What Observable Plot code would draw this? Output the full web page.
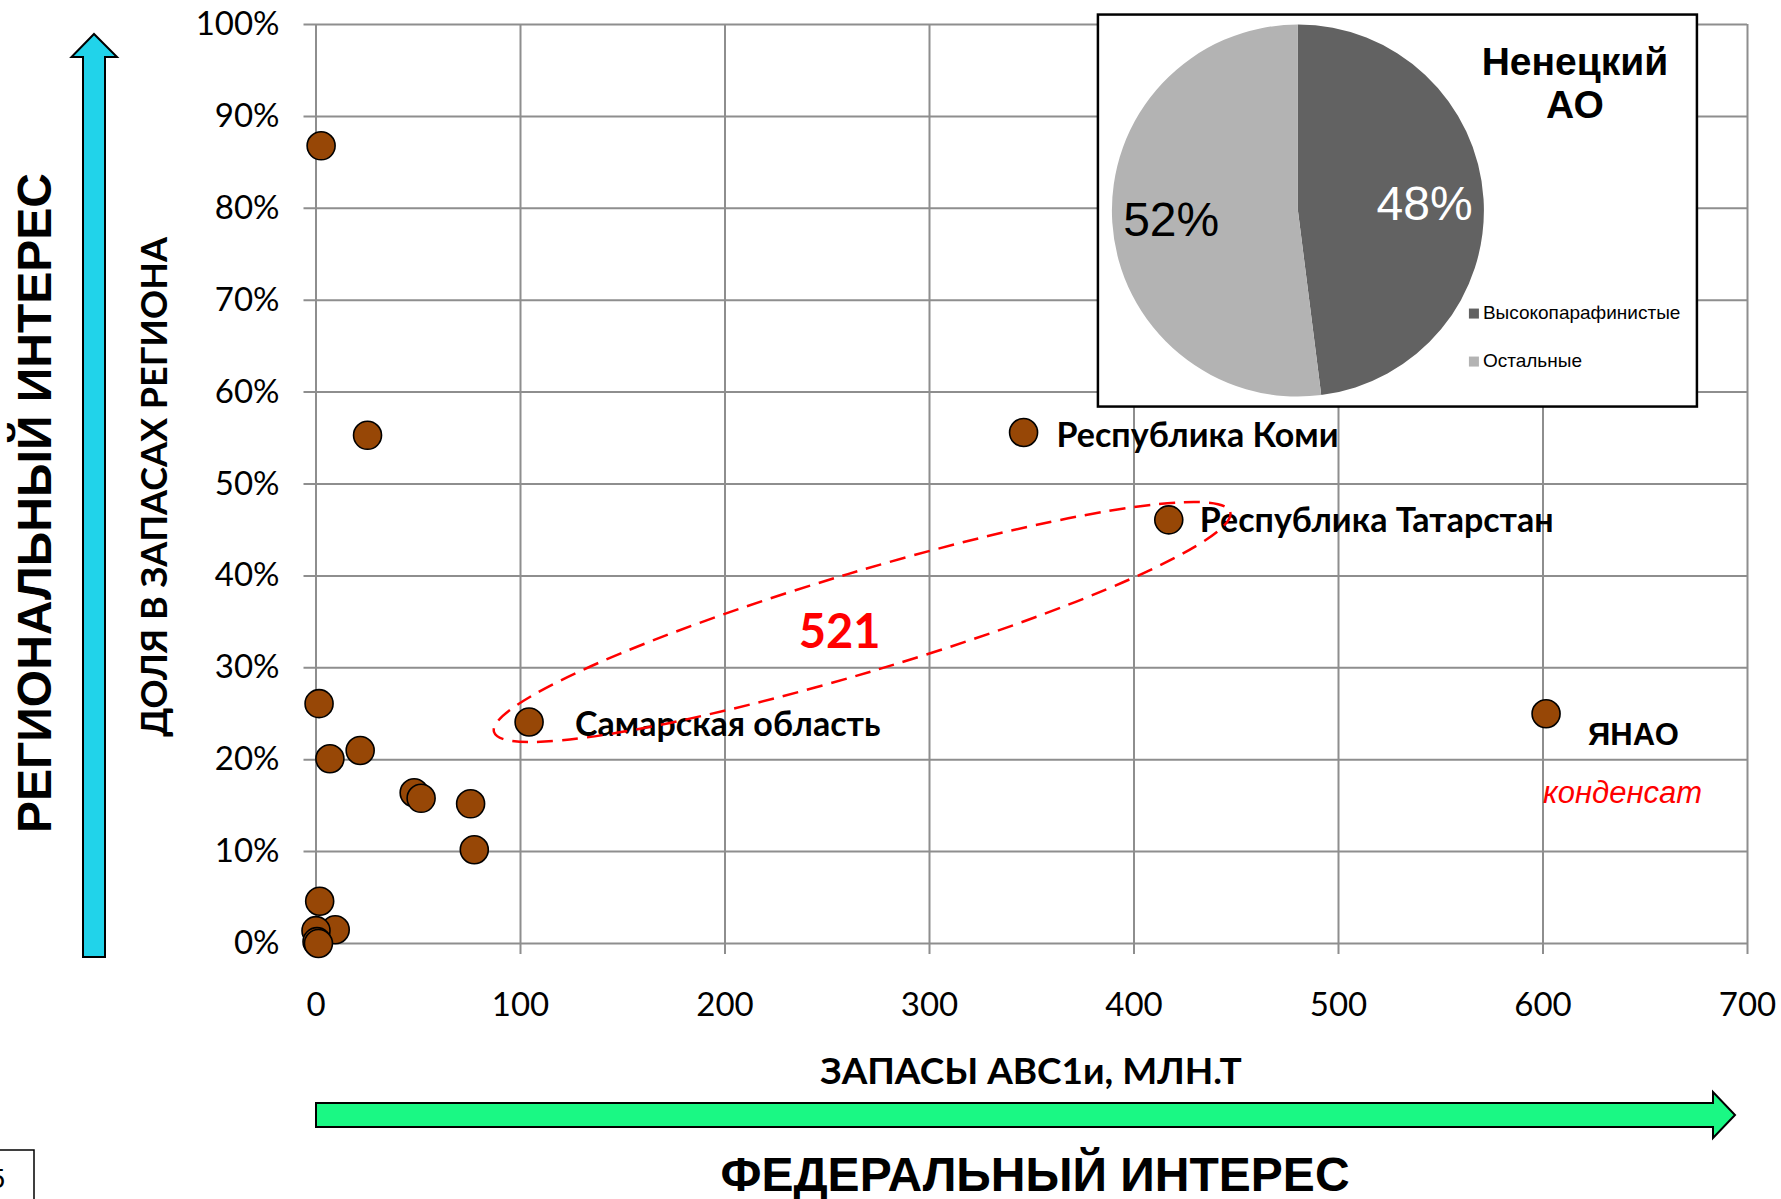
<!DOCTYPE html>
<html><head><meta charset="utf-8">
<script src="https://cdn.jsdelivr.net/npm/d3@7"></script>
<script src="https://cdn.jsdelivr.net/npm/@observablehq/plot@0.6"></script>
<style>html,body{margin:0;padding:0;background:#fff} svg{display:block}</style>
</head><body><div id="chart"></div>
<script>
// ---- data ----
const reserves = [2.5, 25.2, 1.5, 6.8, 21.6, 48, 51.4, 75.6, 77.4, 1.8, 9.4, 0, 0.5, 1.2, 104.2, 346, 417, 601.5];
const share    = [0.868, 0.553, 0.261, 0.201, 0.210, 0.164, 0.158, 0.152, 0.102, 0.046, 0.015, 0.014, 0.002, 0.0, 0.241, 0.556, 0.461, 0.250];
const pointNames = ["", "", "", "", "", "", "", "", "", "", "", "", "", "", "Самарская область", "Республика Коми", "Республика Татарстан", "ЯНАО"];
const xTicks = [0, 100, 200, 300, 400, 500, 600, 700];
const yTicks = [0, 0.1, 0.2, 0.3, 0.4, 0.5, 0.6, 0.7, 0.8, 0.9, 1.0];
const pieCategories = ["Высокопарафинистые", "Остальные"];
const pieValues = [48, 52];
const pieTitle = ["Ненецкий", "АО"];
const clusterLabel = "521";
const condensateNote = "конденсат";
const xTitle = "ЗАПАСЫ АВС1и, МЛН.Т";
const yTitle = "ДОЛЯ В ЗАПАСАХ РЕГИОНА";
const fedTitle = "ФЕДЕРАЛЬНЫЙ ИНТЕРЕС";
const regTitle = "РЕГИОНАЛЬНЫЙ ИНТЕРЕС";

// ---- layout / style ----
const W = 1781, H = 1199;
const calibri = "Lato, 'Open Sans', sans-serif";
const arial = "'Liberation Sans', Arial, sans-serif";
const gridColor = "#8e8e8e";
const dotFill = "#974706";
const labelOffsets = {
  "Самарская область": [46, 3],
  "Республика Коми": [33, 4],
  "Республика Татарстан": [31, 1],
  "ЯНАО": [42, 21]
};
const ellipseEnds = {x: [87.3, 447.3], y: [0.2296, 0.469]}; // data coords of major-axis ends
const ellipseMinor = 50;
const clusterPos = {x: 256, y: 0.338};
const pieCenter = {x: 480.4, y: 0.797};
const pieRadius = 186;

const idx = d3.range(reserves.length);
const named = idx.filter(i => pointNames[i]);

const ellipseMark = (index, scales) => {
  const x1 = scales.x(ellipseEnds.x[0]), y1 = scales.y(ellipseEnds.y[0]);
  const x2 = scales.x(ellipseEnds.x[1]), y2 = scales.y(ellipseEnds.y[1]);
  const cx = (x1 + x2) / 2, cy = (y1 + y2) / 2;
  const a = Math.hypot(x2 - x1, y2 - y1) / 2;
  const ang = Math.atan2(y2 - y1, x2 - x1) * 180 / Math.PI;
  const g = d3.create("svg:g");
  g.append("ellipse").attr("cx", 0).attr("cy", 0).attr("rx", a).attr("ry", ellipseMinor)
    .attr("transform", `translate(${cx},${cy}) rotate(${ang})`)
    .attr("fill", "none").attr("stroke", "#ff0000").attr("stroke-width", 2.5)
    .attr("stroke-dasharray", "16,9");
  return g.node();
};

const pieMark = (index, scales) => {
  const cx = scales.x(pieCenter.x), cy = scales.y(pieCenter.y);
  const g = d3.create("svg:g").attr("transform", `translate(${cx},${cy})`);
  g.append("rect").attr("x", -200).attr("y", -196).attr("width", 599).attr("height", 392)
    .attr("fill", "#fff").attr("stroke", "#000").attr("stroke-width", 2.5);
  const colors = ["#626262", "#b3b3b3"];
  const arcs = d3.pie().sort(null).value(d => d)(pieValues);
  const arc = d3.arc().innerRadius(0).outerRadius(pieRadius);
  g.selectAll("path.slice").data(arcs).join("path").attr("d", arc)
    .attr("fill", (d, i) => colors[i]);
  const lr = 127;
  arcs.forEach((d, i) => {
    const m = (d.startAngle + d.endAngle) / 2;
    g.append("text").attr("x", lr * Math.sin(m)).attr("y", -lr * Math.cos(m)).attr("dy", "0.36em")
      .attr("text-anchor", "middle").attr("font-family", arial).attr("font-size", 48)
      .attr("fill", i === 0 ? "#fff" : "#000").text(pieValues[i] + "%");
  });
  pieTitle.forEach((t, i) => {
    g.append("text").attr("x", 277).attr("y", -136 + i * 43).attr("text-anchor", "middle")
      .attr("font-family", arial).attr("font-weight", "bold").attr("font-size", 39).attr("fill", "#000").text(t);
  });
  pieCategories.forEach((t, i) => {
    g.append("rect").attr("x", 171).attr("y", 98 + i * 48).attr("width", 10).attr("height", 10).attr("fill", colors[i]);
    g.append("text").attr("x", 185).attr("y", 108.5 + i * 48).attr("text-anchor", "start")
      .attr("font-family", arial).attr("font-size", 19)
      .attr("fill", "#000").text(t);
  });
  return g.node();
};

const decoMark = () => {
  const g = d3.create("svg:g");
  // regional interest arrow (cyan, vertical)
  g.append("polygon").attr("points", "83,957 105,957 105,57 117,57 94,34 71.5,57 83,57")
    .attr("fill", "#21d3ea").attr("stroke", "#000").attr("stroke-width", 2);
  // federal interest arrow (green, horizontal)
  g.append("polygon").attr("points", "316,1103 1713,1103 1713,1092 1735,1115 1713,1138 1713,1127 316,1127")
    .attr("fill", "#1af884").attr("stroke", "#000").attr("stroke-width", 2);
  g.append("text").attr("transform", "translate(34,503) rotate(-90)").attr("dy", "0.36em")
    .attr("text-anchor", "middle").attr("font-family", arial).attr("font-weight", "bold")
    .attr("font-size", 48).attr("fill", "#000").text(regTitle);
  g.append("text").attr("transform", "translate(154,487) rotate(-90)").attr("dy", "0.36em")
    .attr("text-anchor", "middle").attr("font-family", calibri).attr("font-weight", "bold")
    .attr("font-size", 36).attr("fill", "#000").text(yTitle);
  g.append("text").attr("x", 1031).attr("y", 1071).attr("dy", "0.36em")
    .attr("text-anchor", "middle").attr("font-family", calibri).attr("font-weight", "bold")
    .attr("font-size", 37).attr("fill", "#000").text(xTitle);
  g.append("text").attr("x", 1035).attr("y", 1191)
    .attr("text-anchor", "middle").attr("font-family", arial).attr("font-weight", "bold")
    .attr("font-size", 48).attr("fill", "#000").text(fedTitle);
  // page-number box fragment
  g.append("path").attr("d", "M0,1150 H34 V1199").attr("fill", "none").attr("stroke", "#000").attr("stroke-width", 1.5);
  g.append("text").attr("x", 5).attr("y", 1188).attr("text-anchor", "end").attr("font-family", arial)
    .attr("font-size", 28).attr("fill", "#000").text("5");
  return g.node();
};

const labelMarks = named.map(i => {
  const name = pointNames[i];
  const [dx, dy] = labelOffsets[name];
  const isArial = name === "ЯНАО";
  return Plot.text([i], {
    x: j => reserves[j], y: j => share[j], text: j => pointNames[j],
    dx, dy, textAnchor: "start", fontWeight: "bold",
    fontFamily: isArial ? arial : calibri, fontSize: isArial ? 31 : 34, fill: "#000"
  });
});

const yanao = idx.find(i => pointNames[i] === "ЯНАО");

const chart = Plot.plot({
  width: W, height: H,
  marginLeft: 315.5, marginRight: 34, marginTop: 24, marginBottom: 256,
  x: {domain: [0, 700]},
  y: {domain: [0, 1]},
  style: {fontFamily: calibri, color: "#000", background: "#fff", overflow: "visible"},
  marks: [
    Plot.ruleY(yTicks, {y: d => d, x1: 0, x2: 700, insetLeft: -12, stroke: gridColor, strokeWidth: 2}),
    Plot.ruleX(xTicks, {x: d => d, y1: 1, y2: 0, insetBottom: -11, stroke: gridColor, strokeWidth: 2}),
    Plot.axisY(yTicks, {tickSize: 0, tickPadding: 36.5, fontSize: 33, fontFamily: calibri,
      tickFormat: d => Math.round(d * 100) + "%", label: null}),
    Plot.axisX(xTicks, {tickSize: 0, tickPadding: 49, fontSize: 33, fontFamily: calibri, label: null}),
    decoMark,
    Plot.dot(idx, {x: i => reserves[i], y: i => share[i], r: 14, fill: dotFill, stroke: "#000", strokeWidth: 1.6}),
    ...labelMarks,
    Plot.text([yanao], {x: j => reserves[j], y: j => share[j], text: () => condensateNote,
      dx: -3, dy: 79, textAnchor: "start", fontStyle: "italic", fontFamily: arial, fontSize: 31, fill: "#ff0000"}),
    ellipseMark,
    Plot.text([clusterLabel], {x: () => clusterPos.x, y: () => clusterPos.y, text: d => d,
      fontFamily: calibri, fontWeight: "bold", fontSize: 47, fill: "#ff0000"}),
    pieMark
  ]
});
document.getElementById("chart").appendChild(chart);
</script>
</body></html>
